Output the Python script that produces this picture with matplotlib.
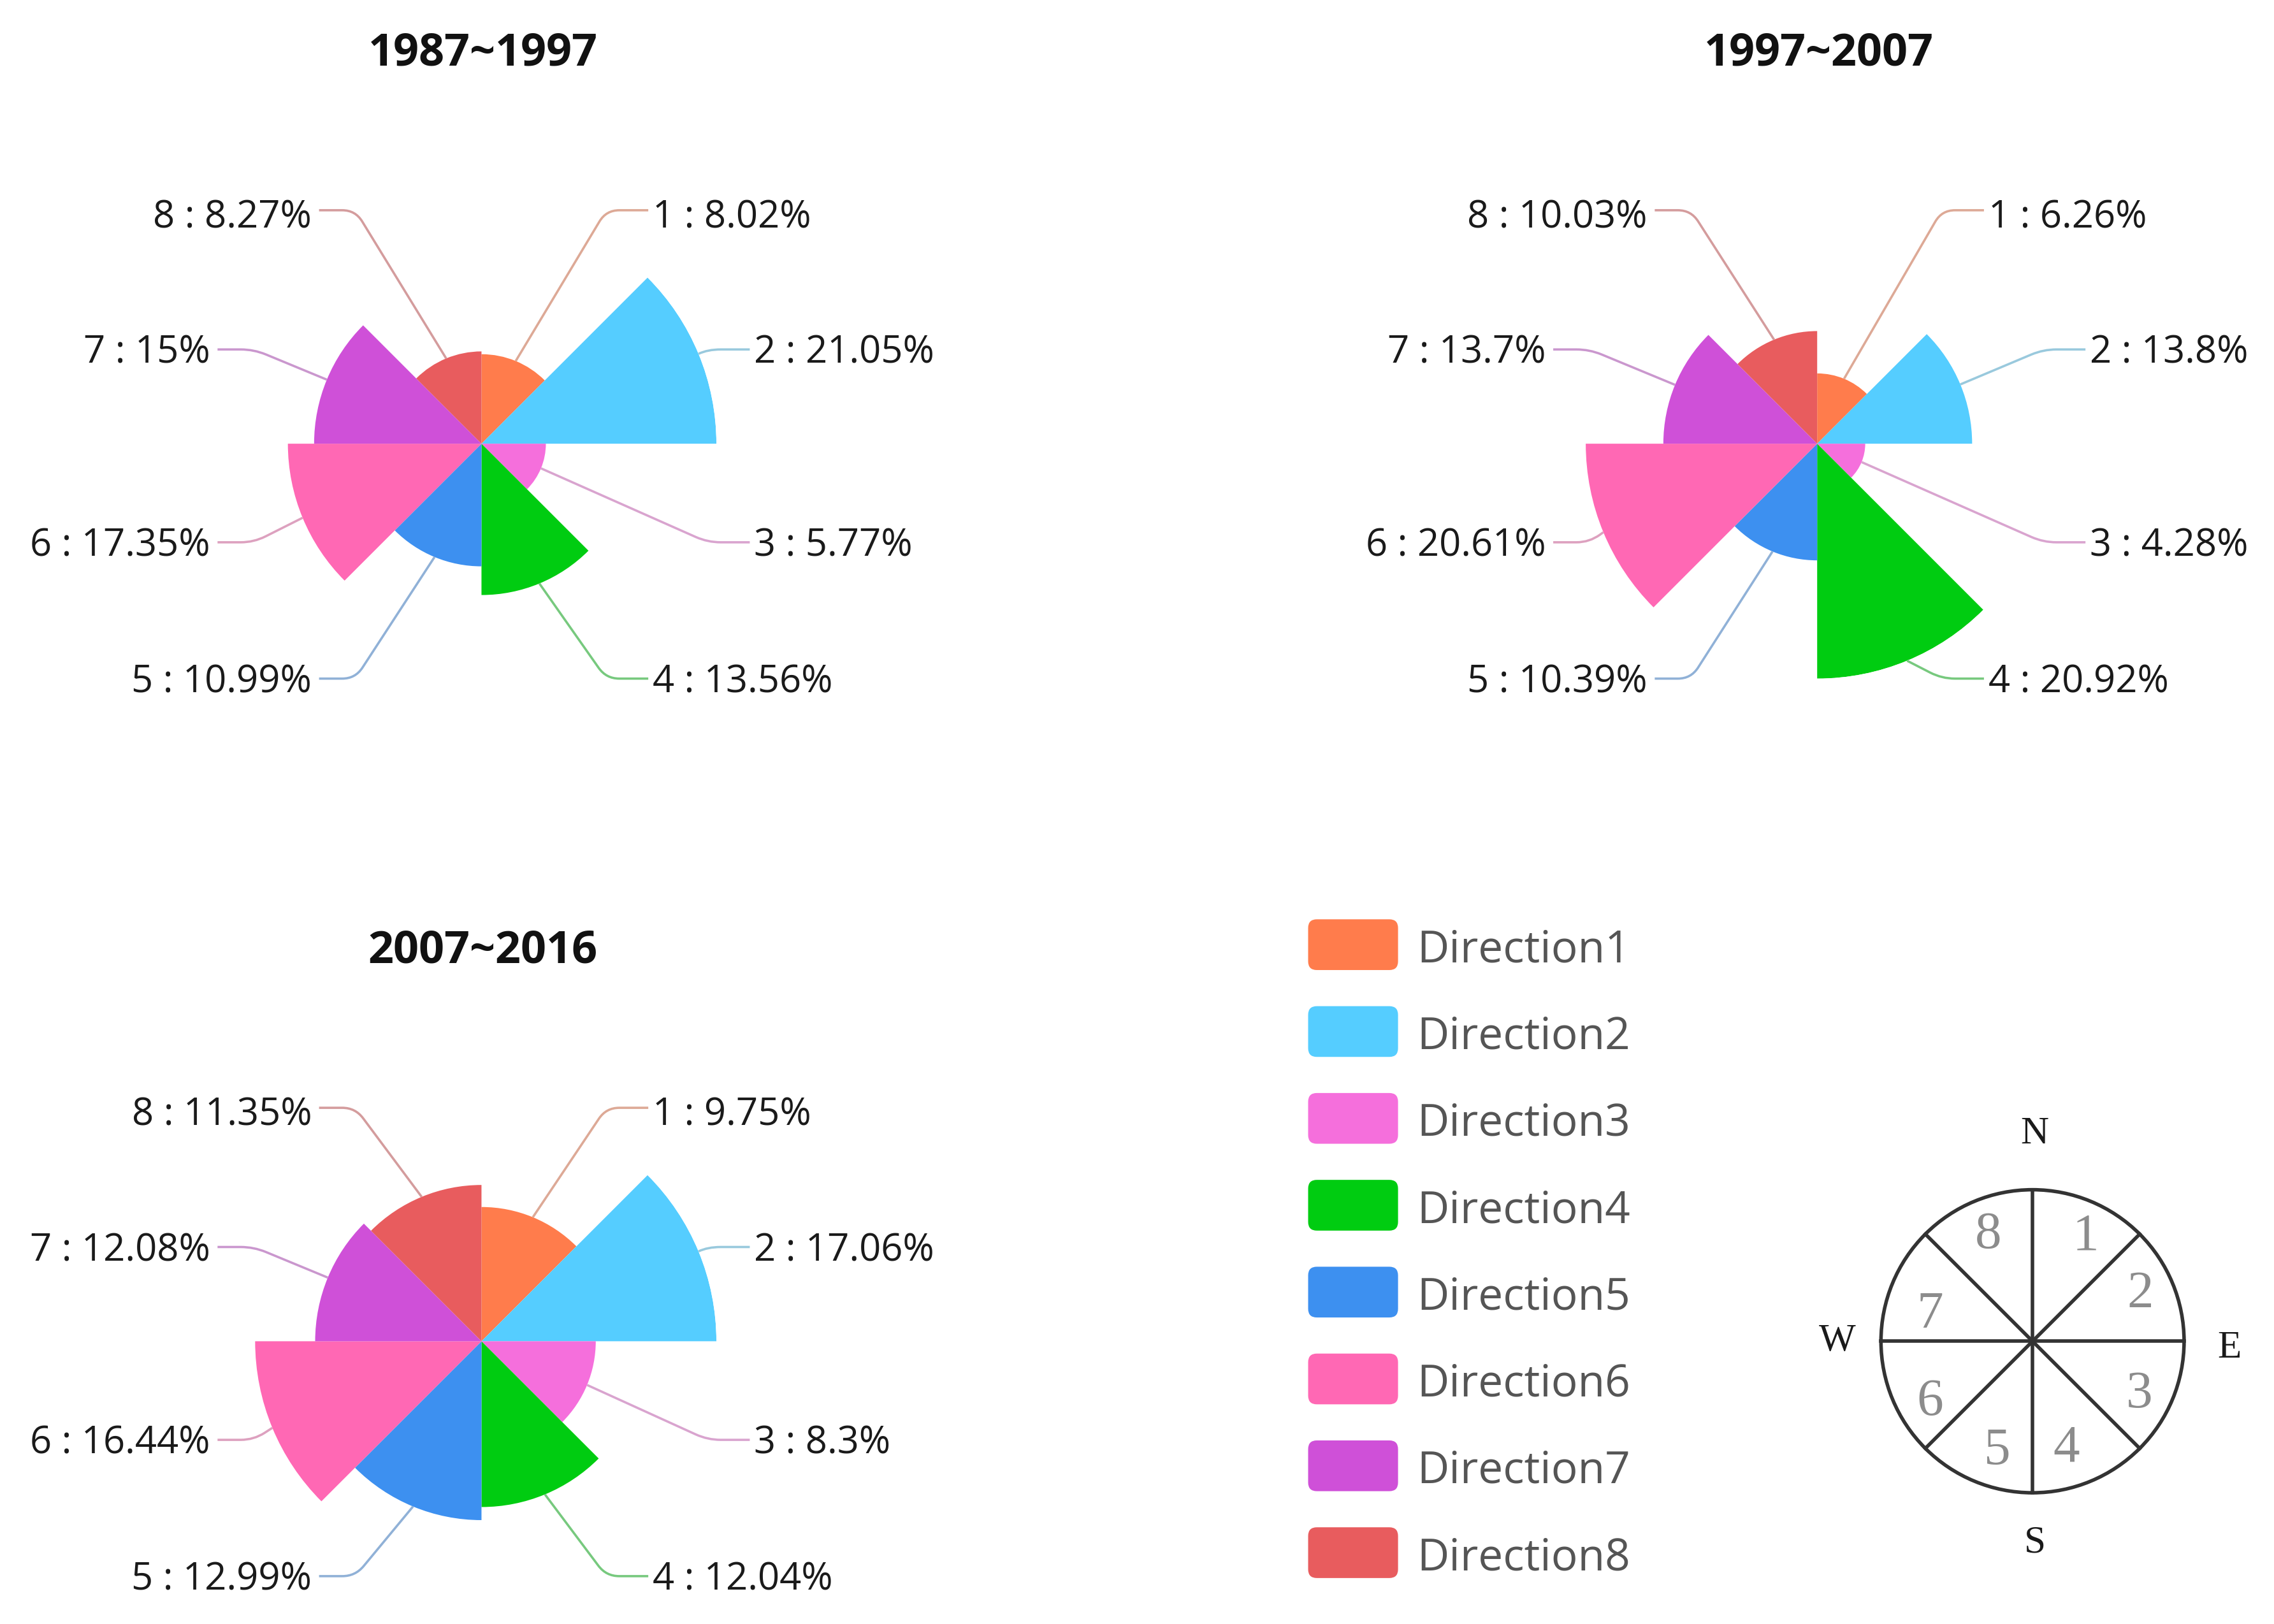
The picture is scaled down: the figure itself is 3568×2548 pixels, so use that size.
import numpy as np
import matplotlib
matplotlib.use("Agg")
import matplotlib.pyplot as plt
from matplotlib.colors import to_rgb
from matplotlib.patches import Circle, FancyBboxPatch, PathPatch
from matplotlib.path import Path

# values in %, direction 1..8 clockwise from north
periods = ["1987~1997", "1997~2007", "2007~2016"]
values_1987 = [8.02, 21.05, 5.77, 13.56, 10.99, 17.35, 15, 8.27]
values_1997 = [6.26, 13.8, 4.28, 20.92, 10.39, 20.61, 13.7, 10.03]
values_2007 = [9.75, 17.06, 8.3, 12.04, 12.99, 16.44, 12.08, 11.35]
directions = ["Direction1", "Direction2", "Direction3", "Direction4",
              "Direction5", "Direction6", "Direction7", "Direction8"]
compass_letters = ["N", "E", "S", "W"]
colors = ["#FF7C4C", "#55CDFF", "#F56FDC", "#00CC11",
          "#3D90F0", "#FF68B4", "#CF50D8", "#E85C5E"]

W, H = 3568, 2548
VW, VH = 1568, 1120  # layout units
ROSE_R = 162

fig = plt.figure(figsize=(W / 100, H / 100), dpi=100, facecolor="white")
plt.rcParams["font.family"] = ["Open Sans", "DejaVu Sans"]

over = fig.add_axes([0, 0, 1, 1], zorder=5)
over.set_xlim(0, VW)
over.set_ylim(VH, 0)
over.axis("off")
over.patch.set_alpha(0)

# line ends relative to the rose centre
anchors = [(115, -161), (185, -65), (185, 68), (115, 162),
           (-112, 162), (-182, 68), (-182, -65), (-112, -161)]


def fmt(v):
    return f"{v:g}%"


def line_color(c):
    # leader lines look greyed and faint in the source
    return tuple(0.4 * a + 0.6 * 0.78 for a in to_rgb(c))


def rose(cx, cy, title_y, vals, title):
    rect = [(cx - ROSE_R) / VW, 1 - (cy + ROSE_R) / VH, 2 * ROSE_R / VW, 2 * ROSE_R / VH]
    ax = fig.add_axes(rect, projection="polar", zorder=2)
    ax.set_theta_zero_location("N")
    ax.set_theta_direction(-1)
    theta = (np.arange(8) + 0.5) * np.pi / 4
    top = max(vals)
    for i in range(8):
        ax.bar(theta[i], vals[i], width=np.pi / 4, color=colors[i], linewidth=0, zorder=i + 2)
    ax.set_ylim(0, top)
    ax.axis("off")

    over.text(cx + 1, title_y, title, ha="center", va="center", fontsize=50.5, fontweight="bold",
              color="#111111")
    for i in range(8):
        r = vals[i] / top * ROSE_R
        sx = cx + r * np.sin(theta[i])
        sy = cy - r * np.cos(theta[i])
        ex = cx + anchors[i][0]
        ey = cy + anchors[i][1]
        side = 1 if anchors[i][0] > 0 else -1
        kx = ex - side * (29 if side > 0 else 25)
        # line from the arc to a rounded knee, then flat to the label
        d = np.hypot(kx - sx, ey - sy)
        t = max(0, 1 - 9 / d)
        bx = sx + (kx - sx) * t
        by = sy + (ey - sy) * t
        path = Path([(sx, sy), (bx, by), (kx, ey), (kx + side * 9, ey), (ex, ey)],
                    [Path.MOVETO, Path.LINETO, Path.CURVE3, Path.CURVE3, Path.LINETO])
        over.add_patch(PathPatch(path, fill=False, edgecolor=line_color(colors[i]), linewidth=2.6))
        txt = f"{i + 1} : {fmt(vals[i])}"
        dy = 5 if anchors[i][1] == -161 else 2.5
        if side > 0:
            over.text(ex + 3, ey + dy, txt, ha="left", va="center", fontsize=43, color="#1a1a1a")
        else:
            over.text(ex - 5, ey + dy, txt, ha="right", va="center", fontsize=43, color="#1a1a1a")


rose(332, 306, 37, values_1987, periods[0])
rose(1253, 306, 37, values_1997, periods[1])
rose(332, 925, 656, values_2007, periods[2])

# legend
for i, name in enumerate(directions):
    y = 651.5 + i * 59.9
    over.add_patch(FancyBboxPatch((902, y - 17.5), 62, 35, boxstyle="round,pad=0,rounding_size=6",
                                  facecolor=colors[i], edgecolor="none"))
    over.text(977, y + 4, name, ha="left", va="center", fontsize=50, color="#555555")

# compass
ccx, ccy, cr = 1401.5, 925, 104.5
over.add_patch(Circle((ccx, ccy), cr, fill=False, edgecolor="#333333", linewidth=4.0))
for k in range(8):
    a = k * np.pi / 4
    over.plot([ccx, ccx + cr * np.sin(a)], [ccy, ccy - cr * np.cos(a)], color="#333333", linewidth=4.0)
num_pos = [(1438, 853), (1476, 893), (1475, 962), (1425, 999),
           (1377, 1001), (1331, 967), (1331, 907), (1371, 852)]
for i, (x, y) in enumerate(num_pos):
    over.text(x, y, str(i + 1), ha="center", va="center", fontsize=60, color="#8c8c8c",
              family="Liberation Serif")
letter_pos = [(1403, 782), (1537, 930), (1403, 1064), (1267, 925)]
for s, (x, y) in zip(compass_letters, letter_pos):
    over.text(x, y, s, ha="center", va="center", fontsize=44, color="#1a1a1a",
              family="Liberation Serif")

fig.savefig("out.png", dpi=100, facecolor="white")
